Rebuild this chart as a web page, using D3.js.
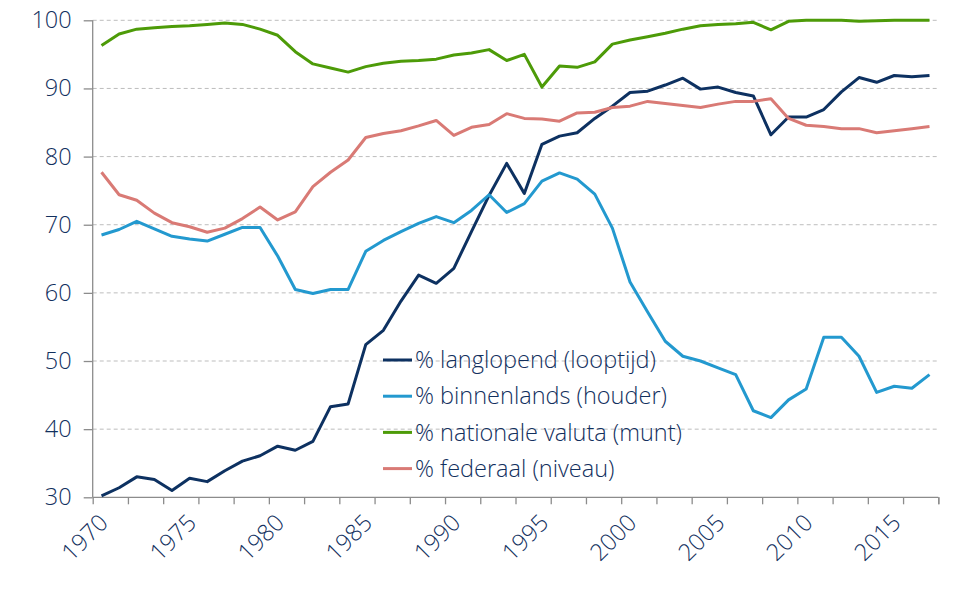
<!DOCTYPE html>
<html>
<head>
<meta charset="utf-8">
<script src="https://cdn.jsdelivr.net/npm/d3@7"></script>
<style>
  body { margin: 0; background: #fff; }
  text { font-family: "Open Sans", "Segoe UI", sans-serif; font-weight: 300; fill: #12305E; }
</style>
</head>
<body>
<div id="chart"></div>
<script>
// ------------------------------------------------------------------
//  schuld indicatoren 1970 - 2017
// ------------------------------------------------------------------
const years = d3.range(1970, 2018)

const langlopend = [30.2, 31.4, 33.0, 32.6, 31.0, 32.8, 32.3, 33.9, 35.3, 36.1,
    37.5, 36.9, 38.2, 43.3, 43.7, 52.4, 54.5, 58.8, 62.6, 61.4,
    63.6, 69.0, 74.3, 79.0, 74.6, 81.8, 83.0, 83.5, 85.6, 87.4,
    89.4, 89.6, 90.5, 91.5, 89.9, 90.2, 89.4, 88.9, 83.2, 85.8,
    85.8, 86.9, 89.5, 91.6, 90.9, 91.9, 91.7, 91.9]

const binnenlands = [68.5, 69.3, 70.5, 69.4, 68.3, 67.9, 67.6, 68.6, 69.6, 69.6,
    65.4, 60.5, 59.9, 60.5, 60.5, 66.1, 67.7, 69.0, 70.2, 71.2,
    70.3, 72.1, 74.4, 71.8, 73.1, 76.4, 77.6, 76.7, 74.5, 69.5,
    61.6, 57.2, 52.9, 50.7, 50.0, 49.0, 48.0, 42.7, 41.7, 44.3,
    45.9, 53.5, 53.5, 50.7, 45.4, 46.3, 46.0, 48.0]

const nationaleValuta = [96.3, 98.0, 98.7, 98.9, 99.1, 99.2, 99.4, 99.6, 99.4, 98.7,
    97.8, 95.4, 93.6, 93.0, 92.4, 93.2, 93.7, 94.0, 94.1, 94.3,
    94.9, 95.2, 95.7, 94.1, 95.0, 90.2, 93.3, 93.1, 93.9, 96.5,
    97.1, 97.6, 98.1, 98.7, 99.2, 99.4, 99.5, 99.7, 98.6, 99.85,
    100, 100, 100, 99.85, 99.95, 100, 100, 100]

const federaal = [77.7, 74.4, 73.6, 71.7, 70.3, 69.7, 68.9, 69.5, 70.9, 72.6,
    70.7, 71.9, 75.6, 77.7, 79.5, 82.8, 83.4, 83.8, 84.5, 85.3,
    83.1, 84.3, 84.7, 86.3, 85.6, 85.5, 85.2, 86.4, 86.5, 87.2,
    87.4, 88.1, 87.8, 87.5, 87.2, 87.7, 88.1, 88.1, 88.5, 85.6,
    84.6, 84.4, 84.1, 84.1, 83.5, 83.8, 84.1, 84.4]

const seriesNames = ["% langlopend (looptijd)", "% binnenlands (houder)", "% nationale valuta (munt)", "% federaal (niveau)"]
const seriesColors = ["#0D3161", "#2399CF", "#4D9B08", "#D97A75"]
const yTicks = [30, 40, 50, 60, 70, 80, 90, 100]
const xLabels = [1970, 1975, 1980, 1985, 1990, 1995, 2000, 2005, 2010, 2015]

const allSeries = [langlopend, binnenlands, nationaleValuta, federaal]

// ------------------------------------------------------------------
const width = 960
const height = 600
const plotLeft = 92.7, plotRight = 938.3, plotTop = 20.3, plotBottom = 497.3
const fontSize = "23.5px"

const svg = d3.select("#chart").append("svg")
    .attr("width", width)
    .attr("height", height)

// categories: each year occupies one slot, point in the middle
const x = d3.scaleLinear()
    .domain([1969.5, 2017.5])
    .range([plotLeft, plotRight])

const y = d3.scaleLinear()
    .domain([30, 100])
    .range([plotBottom, plotTop])

// dashed gridlines
svg.append("g")
    .selectAll("line")
    .data(yTicks.filter(d => d > 30))
    .enter().append("line")
    .attr("x1", plotLeft)
    .attr("x2", plotRight)
    .attr("y1", d => y(d))
    .attr("y2", d => y(d))
    .attr("stroke", "#BDBDBD")
    .attr("stroke-width", 1)
    .attr("stroke-dasharray", "4,3")

// y axis
const yAxis = svg.append("g")
    .attr("transform", "translate(" + plotLeft + ",0)")
    .call(d3.axisLeft(y).tickValues(yTicks).tickSize(9).tickPadding(12))
yAxis.selectAll("path, line").attr("stroke", "#8C8C8C").attr("stroke-width", 1.3)
yAxis.select(".domain").attr("d", "M0," + plotTop + "V" + plotBottom)
yAxis.selectAll("text")
    .style("font-size", fontSize)
    .attr("fill", "#12305E")

// x axis tick marks, between categories every 2 years
const tickPos = d3.range(1969.5, 2018, 2)
const xAxis = svg.append("g")
    .attr("transform", "translate(0," + plotBottom + ")")
    .call(d3.axisBottom(x).tickValues(tickPos.concat([2017.5])).tickSize(7).tickFormat(""))
xAxis.selectAll("path, line").attr("stroke", "#8C8C8C").attr("stroke-width", 1.3)
xAxis.select(".domain").attr("d", "M" + plotLeft + ",0H" + plotRight)

// rotated year labels
svg.append("g")
    .selectAll("text")
    .data(xLabels)
    .enter().append("text")
    .attr("transform", d => "translate(" + (x(d) + 2.2) + "," + (plotBottom + 21.2) + ") rotate(-45)")
    .attr("text-anchor", "end")
    .attr("dy", "0.35em")
    .style("font-size", fontSize)
    .text(d => d)

// lines
const line = d3.line()
    .x((d, i) => x(years[i]))
    .y(d => y(d))

svg.append("g")
    .selectAll("path")
    .data(allSeries)
    .enter().append("path")
    .attr("d", d => line(d))
    .attr("fill", "none")
    .attr("stroke", (d, i) => seriesColors[i])
    .attr("stroke-width", 3)
    .attr("stroke-linejoin", "round")

// legend
const legend = svg.append("g")
    .attr("transform", "translate(383,360)")

const rows = legend.selectAll("g")
    .data(seriesNames)
    .enter().append("g")
    .attr("transform", (d, i) => "translate(0," + (i * 36.2) + ")")

rows.append("line")
    .attr("x1", 0)
    .attr("x2", 29)
    .attr("stroke", (d, i) => seriesColors[i])
    .attr("stroke-width", 3)

rows.append("text")
    .attr("x", 32)
    .attr("dy", "0.35em")
    .style("font-size", fontSize)
    .text(d => d)
</script>
</body>
</html>
